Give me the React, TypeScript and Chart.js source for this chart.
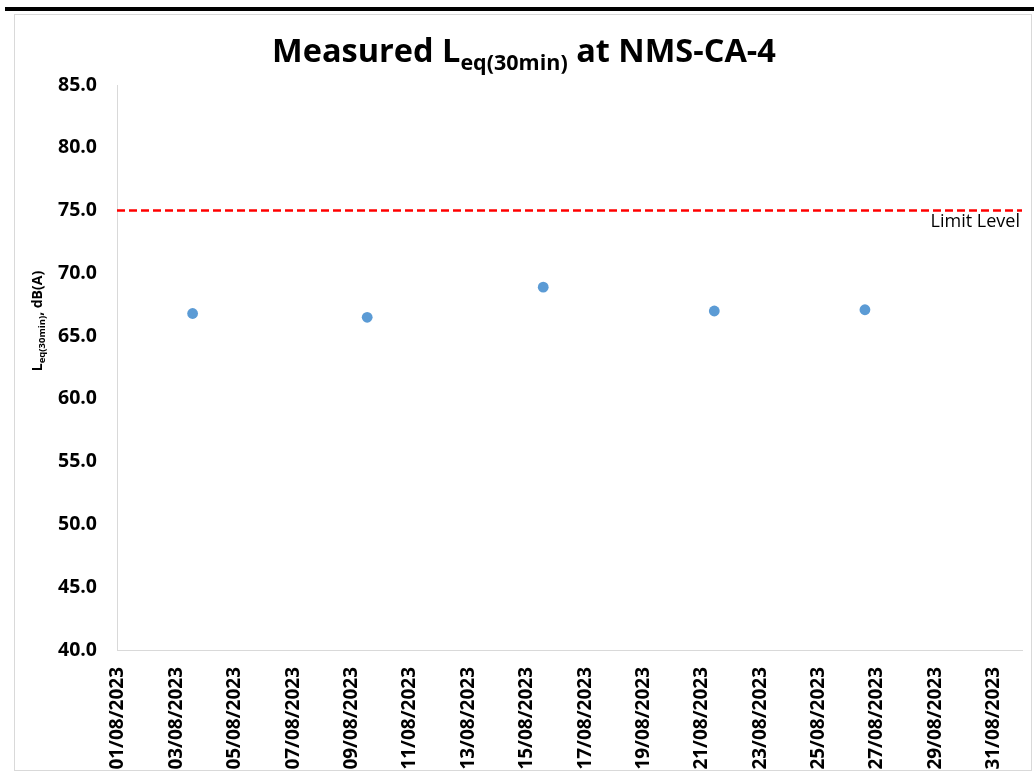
import React, { useEffect, useRef } from 'react';
import { Chart, registerables } from 'chart.js';

Chart.register(...registerables);

// Measurement times, as day of August 2023 (fractional day = time of day)
const measurementDays = [3.59, 9.57, 15.6, 21.46, 26.62];
const leqValues = [66.8, 66.5, 68.9, 67.0, 67.1];

// Limit level line
const limitDays = [1, 32];
const limitValues = [75, 75];
const limitLabel = 'Limit Level';

// Axis ticks
const xTickDays = [1, 3, 5, 7, 9, 11, 13, 15, 17, 19, 21, 23, 25, 27, 29, 31];
const xTickLabels = [
  '01/08/2023', '03/08/2023', '05/08/2023', '07/08/2023', '09/08/2023', '11/08/2023',
  '13/08/2023', '15/08/2023', '17/08/2023', '19/08/2023', '21/08/2023', '23/08/2023',
  '25/08/2023', '27/08/2023', '29/08/2023', '31/08/2023',
];
const yTickValues = [40, 45, 50, 55, 60, 65, 70, 75, 80, 85];
const yTickLabels = ['40.0', '45.0', '50.0', '55.0', '60.0', '65.0', '70.0', '75.0', '80.0', '85.0'];

const FONT = "'Open Sans', 'Liberation Sans', sans-serif";
const W = 1034;
const H = 772;

type Seg = { text: string; size: number; shift: number };

function drawSegments(ctx: CanvasRenderingContext2D, segs: Seg[], cx: number, baseY: number) {
  let total = 0;
  const widths = segs.map((s) => {
    ctx.font = `bold ${s.size}px ${FONT}`;
    const w = ctx.measureText(s.text).width;
    total += w;
    return w;
  });
  let x = cx - total / 2;
  segs.forEach((s, i) => {
    ctx.font = `bold ${s.size}px ${FONT}`;
    ctx.fillText(s.text, x, baseY + s.shift);
    x += widths[i];
  });
}

const decorPlugin = {
  id: 'decor',
  beforeDraw(chart: any) {
    const ctx: CanvasRenderingContext2D = chart.ctx;
    ctx.save();
    ctx.fillStyle = '#ffffff';
    ctx.fillRect(0, 0, W, H);
    // heavy black rule at the top
    ctx.fillStyle = '#000000';
    ctx.fillRect(5, 7, W - 5, 4);
    // light chart frame
    ctx.strokeStyle = '#d9d9d9';
    ctx.lineWidth = 1;
    ctx.strokeRect(14.5, 14.5, 1017, 756);
    ctx.restore();
  },
  afterDraw(chart: any) {
    const ctx: CanvasRenderingContext2D = chart.ctx;
    const xs = chart.scales.x;
    const ys = chart.scales.y;
    ctx.save();
    ctx.fillStyle = '#000000';
    ctx.textAlign = 'left';
    ctx.textBaseline = 'alphabetic';
    // Title
    drawSegments(
      ctx,
      [
        { text: 'Measured L', size: 32.5, shift: 0 },
        { text: 'eq(30min)', size: 21.5, shift: 8 },
        { text: ' at NMS-CA-4', size: 32.5, shift: 0 },
      ],
      524,
      62
    );
    // Y axis title (rotated)
    ctx.save();
    ctx.translate(42, 321);
    ctx.rotate(-Math.PI / 2);
    drawSegments(
      ctx,
      [
        { text: 'L', size: 14, shift: 0 },
        { text: 'eq(30min)', size: 9.5, shift: 3 },
        { text: ', dB(A)', size: 14, shift: 0 },
      ],
      0,
      0
    );
    ctx.restore();
    // Limit label
    ctx.font = `18px ${FONT}`;
    ctx.textAlign = 'right';
    const ly = ys.getPixelForValue(limitValues[limitValues.length - 1]);
    ctx.fillText(limitLabel, xs.right - 2, ly + 16.5);
    ctx.restore();
  },
};

export default function App() {
  const ref = useRef<HTMLCanvasElement>(null);

  useEffect(() => {
    if (!ref.current) return;
    const chart = new Chart(ref.current, {
      type: 'scatter',
      data: {
        datasets: [
          {
            label: 'Leq',
            type: 'scatter',
            data: measurementDays.map((d, i) => ({ x: d, y: leqValues[i] })),
            backgroundColor: '#5B9BD5',
            borderColor: '#5B9BD5',
            borderWidth: 0,
            pointRadius: 5.4,
          },
          {
            label: limitLabel,
            type: 'line',
            data: limitDays.map((d, i) => ({ x: d, y: limitValues[i] })),
            borderColor: '#FF0000',
            borderWidth: 2.5,
            borderDash: [8, 4],
            pointRadius: 0,
            fill: false,
          },
        ],
      },
      options: {
        responsive: false,
        animation: false,
        devicePixelRatio: 1,
        layout: { padding: { left: 0, top: 85, right: 12, bottom: 0 } },
        plugins: {
          legend: { display: false },
          title: { display: false },
          tooltip: { enabled: false },
        },
        scales: {
          x: {
            type: 'linear',
            min: limitDays[0],
            max: limitDays[1],
            grid: { display: false, drawTicks: false },
            border: { display: true, color: '#d9d9d9', width: 1 },
            afterBuildTicks: (scale: any) => {
              scale.ticks = xTickDays.map((v) => ({ value: v }));
            },
            afterFit: (scale: any) => {
              scale.height = 122;
            },
            ticks: {
              autoSkip: false,
              maxRotation: 90,
              minRotation: 90,
              padding: 17,
              labelOffset: 1,
              color: '#000000',
              font: { family: FONT, size: 19, weight: 'bold' },
              callback: (v: any) => {
                const i = xTickDays.indexOf(Number(v));
                return i >= 0 ? xTickLabels[i] : '';
              },
            },
          },
          y: {
            type: 'linear',
            min: yTickValues[0],
            max: yTickValues[yTickValues.length - 1],
            grid: { display: false, drawTicks: false },
            border: { display: true, color: '#d9d9d9', width: 1 },
            afterBuildTicks: (scale: any) => {
              scale.ticks = yTickValues.map((v) => ({ value: v }));
            },
            afterFit: (scale: any) => {
              scale.width = 117;
            },
            ticks: {
              padding: 20,
              color: '#000000',
              font: { family: FONT, size: 19.5, weight: 'bold' },
              callback: (v: any) => {
                const i = yTickValues.indexOf(Number(v));
                return i >= 0 ? yTickLabels[i] : '';
              },
            },
          },
        },
      },
      plugins: [decorPlugin],
    } as any);
    return () => chart.destroy();
  }, []);

  return (
    <div style={{ position: 'absolute', left: 0, top: 0, width: W, height: H, background: '#fff' }}>
      <canvas ref={ref} width={W} height={H} style={{ display: 'block', width: W, height: H }} />
    </div>
  );
}
